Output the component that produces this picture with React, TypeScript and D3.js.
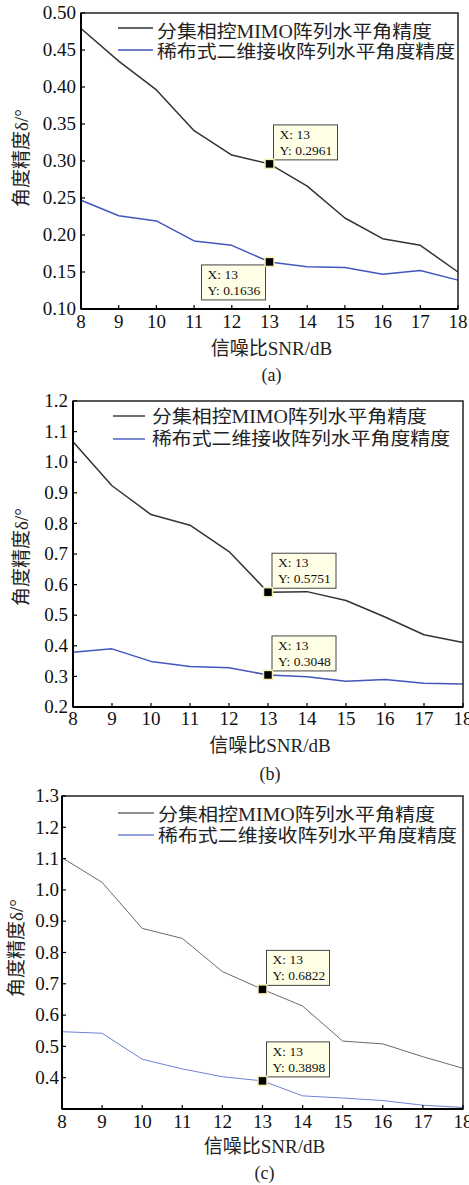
import React from "react";
import * as d3 from "d3";

// SNR sweep (dB)
const SNR = [8, 9, 10, 11, 12, 13, 14, 15, 16, 17, 18];

// Angle accuracy (deg) for the two array configurations, three scenarios
const phasedA = [0.479, 0.435, 0.396, 0.341, 0.308, 0.2961, 0.266, 0.223, 0.195, 0.186, 0.150];
const sparseA = [0.247, 0.226, 0.219, 0.192, 0.186, 0.1636, 0.157, 0.156, 0.147, 0.152, 0.139];

const phasedB = [1.067, 0.923, 0.829, 0.794, 0.708, 0.5751, 0.577, 0.548, 0.494, 0.436, 0.411];
const sparseB = [0.379, 0.390, 0.349, 0.332, 0.328, 0.3048, 0.299, 0.284, 0.290, 0.278, 0.275];

const phasedC = [1.103, 1.024, 0.877, 0.845, 0.739, 0.6822, 0.629, 0.517, 0.508, 0.467, 0.430];
const sparseC = [0.547, 0.542, 0.459, 0.428, 0.403, 0.3898, 0.342, 0.335, 0.327, 0.312, 0.305];

const yTicksA = [0.1, 0.15, 0.2, 0.25, 0.3, 0.35, 0.4, 0.45, 0.5];
const yTicksB = [0.2, 0.3, 0.4, 0.5, 0.6, 0.7, 0.8, 0.9, 1.0, 1.1, 1.2];
const yTicksC = [0.4, 0.5, 0.6, 0.7, 0.8, 0.9, 1.0, 1.1, 1.2, 1.3];

const legendNames = ["分集相控MIMO阵列水平角精度", "稀布式二维接收阵列水平角度精度"];
const xTitle = "信噪比SNR/dB";
const yTitle = "角度精度δ/°";
const tipIndex = 5; // SNR = 13 dB

const FONT = "'Liberation Serif', 'Times New Roman', 'Noto Sans CJK SC', serif";

type TipPlace = "upRight" | "downLeft";

interface PanelCfg {
  left: number; right: number; top: number; bottom: number;
  yDomain: [number, number];
  yTicks: number[];
  yFmt: string;
  series: { values: number[]; color: string; width: number; tip: TipPlace }[];
  legend: { lineX0: number; lineX1: number; textX: number; rows: { lineY: number; base: number; len: number }[] };
  yTitleX: number; yTitleY: number;
  xTickBase: number; xTitleBase: number; caption: string; captionBase: number;
  tickLabelGap: number;
  tipW: number;
}

const panels: PanelCfg[] = [
  {
    left: 81, right: 458, top: 13, bottom: 309,
    yDomain: [0.1, 0.5], yTicks: yTicksA, yFmt: ".2f",
    series: [
      { values: phasedA, color: "#333333", width: 1.5, tip: "upRight" },
      { values: sparseA, color: "#4356bd", width: 1.5, tip: "downLeft" },
    ],
    legend: { lineX0: 118, lineX1: 153, textX: 157, rows: [{ lineY: 28, base: 38, len: 275 }, { lineY: 50, base: 58, len: 298 }] },
    yTitleX: 21, yTitleY: 158,
    xTickBase: 328, xTitleBase: 355, caption: "(a)", captionBase: 381,
    tickLabelGap: 5, tipW: 64,
  },
  {
    left: 73, right: 463, top: 401, bottom: 707,
    yDomain: [0.2, 1.2], yTicks: yTicksB, yFmt: ".1f",
    series: [
      { values: phasedB, color: "#333333", width: 1.5, tip: "upRight" },
      { values: sparseB, color: "#4356bd", width: 1.5, tip: "upRight" },
    ],
    legend: { lineX0: 113, lineX1: 145, textX: 152, rows: [{ lineY: 416, base: 423, len: 275 }, { lineY: 439, base: 445, len: 298 }] },
    yTitleX: 21, yTitleY: 557,
    xTickBase: 725, xTitleBase: 752, caption: "(b)", captionBase: 780,
    tickLabelGap: 5, tipW: 64,
  },
  {
    left: 62, right: 463, top: 796, bottom: 1109,
    yDomain: [0.3, 1.3], yTicks: yTicksC, yFmt: ".1f",
    series: [
      { values: phasedC, color: "#6a6a6a", width: 1, tip: "upRight" },
      { values: sparseC, color: "#6f82d4", width: 1, tip: "upRight" },
    ],
    legend: { lineX0: 118, lineX1: 154, textX: 158, rows: [{ lineY: 813, base: 821, len: 277 }, { lineY: 835, base: 842, len: 299 }] },
    yTitleX: 16, yTitleY: 948,
    xTickBase: 1128, xTitleBase: 1153, caption: "(c)", captionBase: 1179,
    tickLabelGap: 3, tipW: 63,
  },
];

function Panel({ cfg }: { cfg: PanelCfg }) {
  const x = d3.scaleLinear().domain([SNR[0], SNR[SNR.length - 1]]).range([cfg.left, cfg.right]);
  const y = d3.scaleLinear().domain(cfg.yDomain).range([cfg.bottom, cfg.top]);
  const fmt = d3.format(cfg.yFmt);
  const line = d3
    .line<number>()
    .x((_, i) => x(SNR[i]))
    .y((v) => y(v));
  const tipH = 35;
  const tick = 4;

  return (
    <g>
      {/* plot lines */}
      {cfg.series.map((s, k) => (
        <path key={k} d={line(s.values) || ""} fill="none" stroke={s.color} strokeWidth={s.width} strokeLinejoin="round" />
      ))}

      {/* frame */}
      <rect x={cfg.left} y={cfg.top} width={cfg.right - cfg.left} height={cfg.bottom - cfg.top} fill="none" stroke="#222" strokeWidth={1.5} />
      <line x1={cfg.left} x2={cfg.left} y1={cfg.top} y2={cfg.bottom} stroke="#000" strokeWidth={2} />
      <line x1={cfg.left} x2={cfg.right} y1={cfg.bottom} y2={cfg.bottom} stroke="#000" strokeWidth={2} />

      {/* x ticks */}
      {SNR.map((v) => (
        <g key={v}>
          <line x1={x(v)} x2={x(v)} y1={cfg.bottom} y2={cfg.bottom - tick} stroke="#000" strokeWidth={1.2} />
          <text x={x(v)} y={cfg.xTickBase} textAnchor="middle" fontFamily={FONT} fontSize={19} fill="#111">
            {v}
          </text>
        </g>
      ))}

      {/* y ticks */}
      {cfg.yTicks.map((v) => (
        <g key={v}>
          <line x1={cfg.left} x2={cfg.left + tick} y1={y(v)} y2={y(v)} stroke="#000" strokeWidth={1.2} />
          <text x={cfg.left - cfg.tickLabelGap} y={y(v)} dy="0.33em" textAnchor="end" fontFamily={FONT} fontSize={19} fill="#111">
            {fmt(v)}
          </text>
        </g>
      ))}

      {/* legend */}
      {cfg.legend.rows.map((r, k) => (
        <g key={k}>
          <line x1={cfg.legend.lineX0} x2={cfg.legend.lineX1} y1={r.lineY} y2={r.lineY} stroke={cfg.series[k].color} strokeWidth={1.4} />
          <text x={cfg.legend.textX} y={r.base} fontFamily={FONT} fontSize={18} fill="#222" textLength={r.len} lengthAdjust="spacingAndGlyphs">
            {legendNames[k]}
          </text>
        </g>
      ))}

      {/* data tips at SNR = 13 dB */}
      {cfg.series.map((s, k) => {
        const px = x(SNR[tipIndex]);
        const py = y(s.values[tipIndex]);
        const bx = s.tip === "upRight" ? px + 4 : px - 4 - cfg.tipW;
        const by = s.tip === "upRight" ? py - 4 - tipH : py + 3;
        return (
          <g key={"tip" + k}>
            <rect x={bx} y={by} width={cfg.tipW} height={tipH} fill="#ffffe8" stroke="#444" strokeWidth={1} />
            <text x={bx + 6} y={by + 14} fontFamily={FONT} fontSize={13.5} fill="#111">
              X: {SNR[tipIndex]}
            </text>
            <text x={bx + 6} y={by + 30} fontFamily={FONT} fontSize={13.5} fill="#111">
              Y: {s.values[tipIndex].toFixed(4)}
            </text>
            <rect x={px - 4.5} y={py - 4.5} width={9} height={9} fill="#000" stroke="#f3eeb0" strokeWidth={1.5} />
          </g>
        );
      })}

      {/* axis titles */}
      <text
        transform={`translate(${cfg.yTitleX},${cfg.yTitleY}) rotate(-90)`}
        textAnchor="middle"
        dy="0.35em"
        fontFamily={FONT}
        fontSize={19}
        fill="#222"
      >
        {yTitle}
      </text>
      <text x={(cfg.left + cfg.right) / 2 + 2} y={cfg.xTitleBase} textAnchor="middle" fontFamily={FONT} fontSize={19} fill="#222">
        {xTitle}
      </text>
      <text x={(cfg.left + cfg.right) / 2 + 2} y={cfg.captionBase} textAnchor="middle" fontFamily={FONT} fontSize={18} fill="#222">
        {cfg.caption}
      </text>
    </g>
  );
}

export default function App() {
  return (
    <svg
      width={469}
      height={1185}
      viewBox="0 0 469 1185"
      style={{ position: "absolute", left: 0, top: 0, background: "#fff" }}
    >
      <rect width={469} height={1185} fill="#fff" />
      {panels.map((p, i) => (
        <Panel key={i} cfg={p} />
      ))}
    </svg>
  );
}
